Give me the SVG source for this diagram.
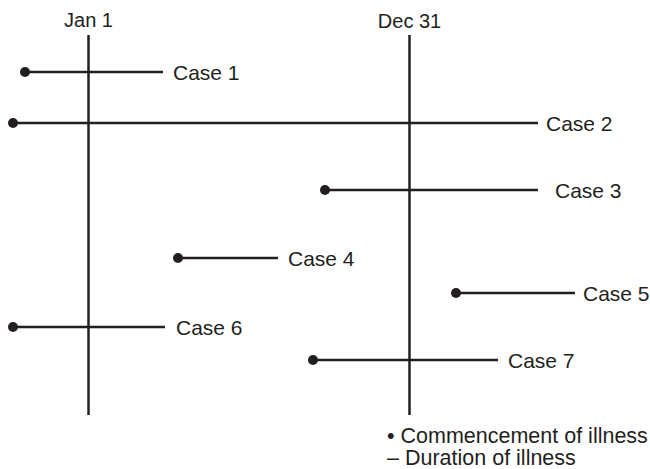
<svg xmlns="http://www.w3.org/2000/svg" width="650" height="469" viewBox="0 0 650 469">
<style>
.ax{stroke:#231f20;stroke-width:2.5;fill:none}
.ln{stroke:#231f20;stroke-width:2.5;fill:none}
.dot{fill:#231f20}
text{font-family:"Liberation Sans",Arial,sans-serif;font-size:21px;fill:#231f20}
.hd{font-size:20px}
.lg{font-size:21.5px}
</style>
<rect width="650" height="469" fill="#fff"/>
<g id="axes">
<g id="jan1"><line class="ax" x1="88.5" y1="35" x2="88.5" y2="415"/><text class="hd" x="88.5" y="27" text-anchor="middle">Jan 1</text></g>
<g id="dec31"><line class="ax" x1="409.5" y1="35" x2="409.5" y2="415"/><text class="hd" x="409.5" y="28" text-anchor="middle">Dec 31</text></g>
</g>
<g id="connectors">
<line class="ln" x1="25" y1="72" x2="163" y2="72"/>
<line class="ln" x1="13" y1="123" x2="538" y2="123"/>
<line class="ln" x1="325" y1="190" x2="538" y2="190"/>
<line class="ln" x1="178" y1="258" x2="278" y2="258"/>
<line class="ln" x1="456" y1="293" x2="575" y2="293"/>
<line class="ln" x1="13" y1="327" x2="165" y2="327"/>
<line class="ln" x1="313" y1="360" x2="498" y2="360"/>
</g>
<g id="case1"><circle class="dot" cx="25" cy="72" r="5"/><text x="173" y="80">Case 1</text></g>
<g id="case2"><circle class="dot" cx="13" cy="123" r="5"/><text x="546" y="131">Case 2</text></g>
<g id="case3"><circle class="dot" cx="325" cy="190" r="5"/><text x="555" y="198">Case 3</text></g>
<g id="case4"><circle class="dot" cx="178" cy="258" r="5"/><text x="288" y="266">Case 4</text></g>
<g id="case5"><circle class="dot" cx="456" cy="293" r="5"/><text x="583" y="301">Case 5</text></g>
<g id="case6"><circle class="dot" cx="13" cy="327" r="5"/><text x="176" y="335">Case 6</text></g>
<g id="case7"><circle class="dot" cx="313" cy="360" r="5"/><text x="508" y="368">Case 7</text></g>
<g id="legend">
<text class="lg" x="387" y="443">• Commencement of illness</text>
<text class="lg" x="387" y="465">– Duration of illness</text>
</g>
</svg>
